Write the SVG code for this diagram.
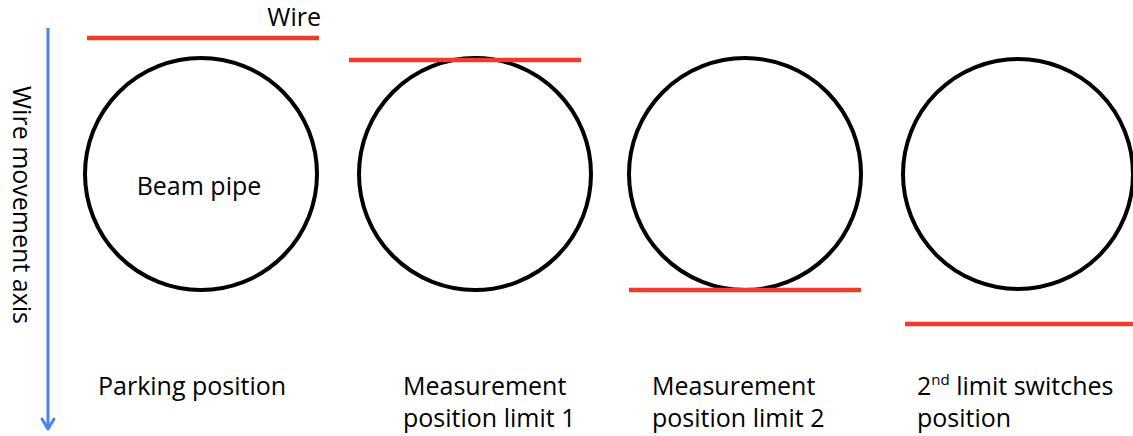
<svg xmlns="http://www.w3.org/2000/svg" width="1133" height="436" viewBox="0 0 1133 436">
<style>
.pipe{fill:none;stroke:#000;stroke-width:4}
.wire{stroke:#f03a2a;stroke-width:4.5}
.t{font-family:"Open Sans","Liberation Sans",sans-serif;font-size:25px;fill:#000}
</style>
<rect width="1133" height="436" fill="#fff"/>
<g id="axis">
<line x1="48" y1="28" x2="48" y2="428" stroke="#4a86e8" stroke-width="3"/>
<path d="M42,419 L48,429 L54,419" fill="none" stroke="#4a86e8" stroke-width="3" stroke-linecap="round" stroke-linejoin="round"/>
<text class="t" transform="translate(13,205) rotate(90)" text-anchor="middle">Wire movement axis</text>
</g>
<g id="parking">
<circle class="pipe" cx="201" cy="174" r="116"/>
<line class="wire" x1="87" y1="38" x2="319" y2="38"/>
<text class="t" x="321" y="26" text-anchor="end">Wire</text>
<text class="t" x="199" y="195" text-anchor="middle">Beam pipe</text>
<text class="t" x="98" y="395">Parking position</text>
</g>
<g id="limit1">
<circle class="pipe" cx="475" cy="174" r="116"/>
<line class="wire" x1="349" y1="60" x2="581" y2="60"/>
<text class="t" x="403" y="395">Measurement</text>
<text class="t" x="403" y="427">position limit 1</text>
</g>
<g id="limit2">
<circle class="pipe" cx="745" cy="174" r="116"/>
<line class="wire" x1="629" y1="290" x2="861" y2="290"/>
<text class="t" x="652" y="395">Measurement</text>
<text class="t" x="652" y="427">position limit 2</text>
</g>
<g id="switches">
<circle class="pipe" cx="1018" cy="174" r="115"/>
<line class="wire" x1="905" y1="324" x2="1133" y2="324"/>
<text class="t" x="917" y="395">2<tspan font-size="15" dy="-10">nd</tspan><tspan dy="10"> limit switches</tspan></text>
<text class="t" x="917" y="427">position</text>
</g>
</svg>
